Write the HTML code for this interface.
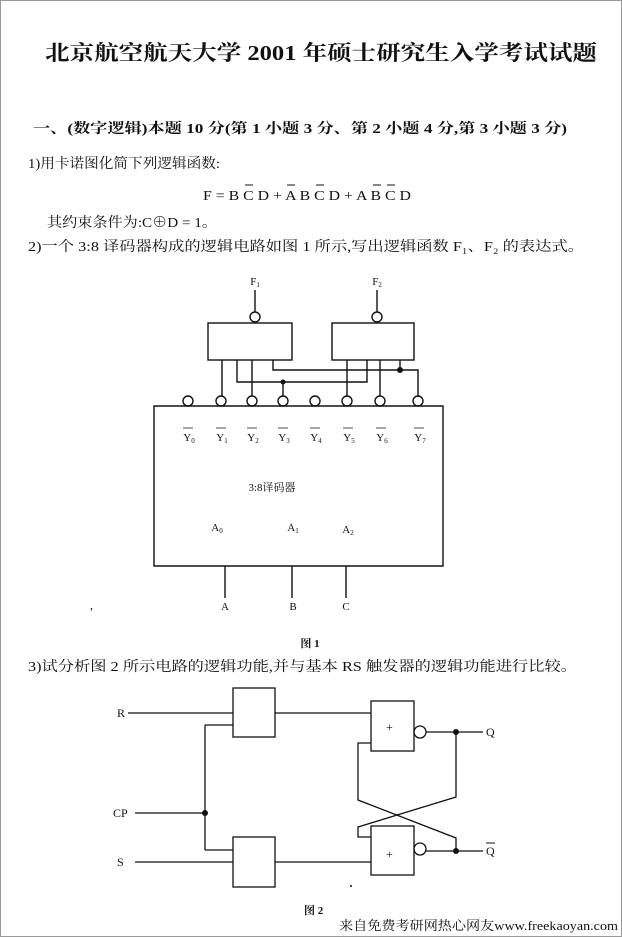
<!DOCTYPE html>
<html><head><meta charset="utf-8"><style>
html,body{margin:0;padding:0;background:#fff}
svg{display:block}
text{font-family:"Liberation Serif","Noto Serif CJK SC","Noto Sans CJK SC",serif;fill:#111}
</style></head><body>
<svg width="622" height="937" viewBox="0 0 622 937" xmlns="http://www.w3.org/2000/svg">
<rect x="0.5" y="0.5" width="621" height="936" fill="#fff" stroke="#999"/>
<text x="45" y="60" font-size="21" font-weight="bold" textLength="552" lengthAdjust="spacingAndGlyphs">北京航空航天大学 2001 年硕士研究生入学考试试题</text>
<text x="33" y="133" font-size="14" font-weight="bold" textLength="534" lengthAdjust="spacingAndGlyphs">一、(数字逻辑)本题 10 分(第 1 小题 3 分、第 2 小题 4 分,第 3 小题 3 分)</text>
<text x="28" y="168" font-size="14" textLength="192" lengthAdjust="spacingAndGlyphs">1)用卡诺图化简下列逻辑函数:</text>
<g font-size="14">
<text x="203" y="200" textLength="208" lengthAdjust="spacingAndGlyphs">F = B C D + A B C D + A B C D</text>
<path d="M245 185h8M287 185h8M316 185h8M373 185h8M387 185h8" stroke="#111" stroke-width="1"/>
</g>
<text x="47" y="227" font-size="14" textLength="170" lengthAdjust="spacingAndGlyphs">其约束条件为:C⊕D = 1。</text>
<text x="28" y="251" font-size="14" textLength="556" lengthAdjust="spacingAndGlyphs">2)一个 3:8 译码器构成的逻辑电路如图 1 所示,写出逻辑函数 F₁、F₂ 的表达式。</text>

<g stroke="#111" stroke-width="1.4" fill="none">
<rect x="208" y="323" width="84" height="37"/>
<rect x="332" y="323" width="82" height="37"/>
<circle cx="255" cy="317" r="5"/><circle cx="377" cy="317" r="5"/>
<path d="M255 290V312M377 290V312"/>
<path d="M154 566V406H443V566Z"/>
<circle cx="188" cy="401" r="5"/><circle cx="221" cy="401" r="5"/><circle cx="252" cy="401" r="5"/><circle cx="283" cy="401" r="5"/><circle cx="315" cy="401" r="5"/><circle cx="347" cy="401" r="5"/><circle cx="380" cy="401" r="5"/><circle cx="418" cy="401" r="5"/>
<path d="M222 360V396M252 360V396M237 360V382H367V360M273 360V370H418V396M283 382V396M347 360V396M380 360V396M400 360V370"/>
<path d="M225 566V598M292 566V598M346 566V598"/>
</g>
<circle cx="283" cy="382" r="2.5" fill="#111"/><circle cx="400" cy="370" r="3" fill="#111"/>
<g font-size="11" text-anchor="middle">
<text x="255" y="285">F<tspan font-size="7" dy="2">1</tspan></text>
<text x="377" y="285">F<tspan font-size="7" dy="2">2</tspan></text>
<text x="189" y="441">Y<tspan font-size="7" dy="2">0</tspan></text>
<text x="222" y="441">Y<tspan font-size="7" dy="2">1</tspan></text>
<text x="253" y="441">Y<tspan font-size="7" dy="2">2</tspan></text>
<text x="284" y="441">Y<tspan font-size="7" dy="2">3</tspan></text>
<text x="316" y="441">Y<tspan font-size="7" dy="2">4</tspan></text>
<text x="349" y="441">Y<tspan font-size="7" dy="2">5</tspan></text>
<text x="382" y="441">Y<tspan font-size="7" dy="2">6</tspan></text>
<text x="420" y="441">Y<tspan font-size="7" dy="2">7</tspan></text>
<text x="272" y="491">3:8译码器</text>
<text x="217" y="531">A<tspan font-size="7" dy="2">0</tspan></text>
<text x="293" y="531">A<tspan font-size="7" dy="2">1</tspan></text>
<text x="348" y="533">A<tspan font-size="7" dy="2">2</tspan></text>
<text x="225" y="610">A</text><text x="293" y="610">B</text><text x="346" y="610">C</text>
<text x="310" y="647" font-weight="bold">图 1</text>
</g>
<path d="M183 428h10M216 428h10M247 428h10M278 428h10M310 428h10M343 428h10M376 428h10M414 428h10" stroke="#111" stroke-width="0.8"/>
<text x="90" y="609" font-size="12">,</text>

<text x="28" y="671" font-size="14" textLength="549" lengthAdjust="spacingAndGlyphs">3)试分析图 2 所示电路的逻辑功能,并与基本 RS 触发器的逻辑功能进行比较。</text>

<g stroke="#111" stroke-width="1.3" fill="none">
<rect x="233" y="688" width="42" height="49"/>
<rect x="233" y="837" width="42" height="50"/>
<rect x="371" y="701" width="43" height="50"/>
<rect x="371" y="826" width="43" height="49"/>
<circle cx="420" cy="732" r="6"/><circle cx="420" cy="849" r="6"/>
<path d="M128 713H233M135 813H205M205 725V850M205 725H233M205 850H233M135 862H233"/>
<path d="M275 713H371M275 862H371M426 732H483M426 851H483"/>
<path d="M371 743H358V800L456 838V851M456 732V797L358 827V837H371"/>
</g>
<circle cx="205" cy="813" r="3" fill="#111"/><circle cx="456" cy="732" r="3" fill="#111"/><circle cx="456" cy="851" r="3" fill="#111"/>
<circle cx="351" cy="886" r="1" fill="#111"/>
<g font-size="12">
<text x="117" y="717">R</text><text x="113" y="817">CP</text><text x="117" y="866">S</text>
<text x="386" y="731">+</text><text x="386" y="858">+</text>
<text x="486" y="736">Q</text><text x="486" y="855">Q</text>
<text x="304" y="914" font-size="11" font-weight="bold">图 2</text>
</g>
<path d="M486 843h9" stroke="#111" stroke-width="1"/>
<text x="339" y="930" font-size="13" font-family="Liberation Mono,Noto Sans CJK SC,monospace" textLength="279" lengthAdjust="spacingAndGlyphs">来自免费考研网热心网友www.freekaoyan.com</text>
</svg>
</body></html>
